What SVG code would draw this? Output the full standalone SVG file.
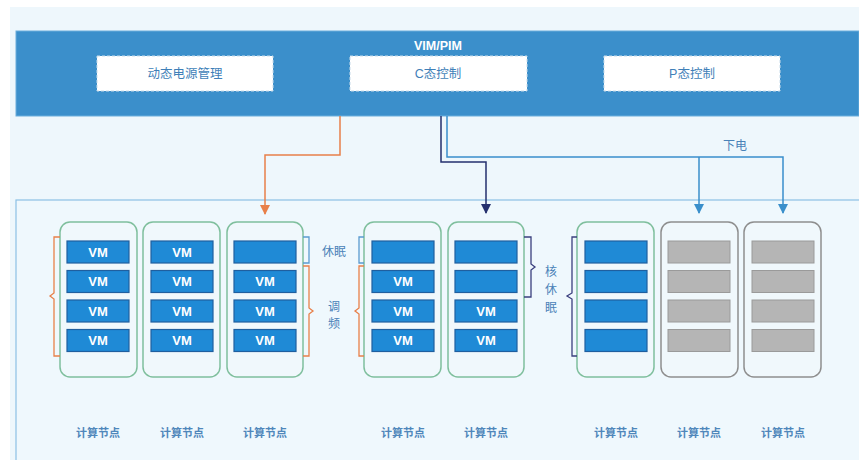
<svg xmlns="http://www.w3.org/2000/svg" width="859" height="460" viewBox="0 0 859 460">
<defs>
<style>
.txt{font-family:"Liberation Sans","Noto Sans CJK SC",sans-serif}
.box{fill:#ffffff;stroke:#c9dcea;stroke-width:1;stroke-dasharray:3 2}
.boxt{font-size:12.5px;fill:#3f7fb8;text-anchor:middle}
.node{fill:#f0f8fc;stroke:#7fbf9d;stroke-width:1.5}
.gnode{fill:#f0f8fc;stroke:#8e8e8e;stroke-width:1.5}
.vm{fill:#1f8ad6;stroke:#1f5f9f;stroke-width:1.2}
.gvm{fill:#b5b5b5;stroke:#9a9a9a;stroke-width:1}
.vmt{font-size:13px;font-weight:bold;fill:#ffffff;text-anchor:middle}
.lbl{font-size:11px;font-weight:bold;fill:#4f87bb;text-anchor:middle}
.side{font-size:12px;fill:#4a82b8;text-anchor:middle}
.conn{fill:none;stroke-width:1.5}
.br{fill:none;stroke-width:1.3}
</style>
<marker id="aN" viewBox="0 0 10 10" refX="9" refY="5" markerWidth="10" markerHeight="10" markerUnits="userSpaceOnUse" orient="auto"><path d="M0,0 L10,5 L0,10 Z" fill="#25306e"/></marker>
<marker id="aB" viewBox="0 0 10 10" refX="9" refY="5" markerWidth="10" markerHeight="10" markerUnits="userSpaceOnUse" orient="auto"><path d="M0,0 L10,5 L0,10 Z" fill="#3a8fcb"/></marker>
<marker id="aO" viewBox="0 0 10 10" refX="9" refY="5" markerWidth="10" markerHeight="10" markerUnits="userSpaceOnUse" orient="auto"><path d="M0,0 L10,5 L0,10 Z" fill="#e8804a"/></marker>
</defs>
<rect x="0" y="0" width="859" height="460" fill="#ffffff"/>
<rect x="10" y="7" width="849" height="453" fill="#eef7fc"/>

<g id="vim-pim">
<rect x="16" y="31" width="843" height="85" fill="#3b8fcb" stroke="#6aaedc" stroke-width="1"/>
<text class="txt" x="438" y="50" font-size="12.5" font-weight="bold" fill="#ffffff" text-anchor="middle">VIM/PIM</text>
</g>
<g id="dpm"><rect class="box" x="97" y="56" width="176" height="35"/><text class="txt boxt" x="185" y="78">动态电源管理</text></g>
<g id="cstate"><rect class="box" x="350" y="56" width="177" height="35"/><text class="txt boxt" x="438" y="78">C态控制</text></g>
<g id="pstate"><rect class="box" x="604" y="56" width="176" height="35"/><text class="txt boxt" x="692" y="78">P态控制</text></g>

<g id="cluster"><rect x="16" y="200" width="850" height="270" fill="#eff8fd" stroke="#8cc0e4" stroke-width="1.2"/></g>

<g id="connectors">
<path class="conn" d="M340,116 V155 H265 V214" stroke="#e8804a" marker-end="url(#aO)"/>
<path class="conn" d="M441,116 V162 H486 V213" stroke="#25306e" marker-end="url(#aN)"/>
<path class="conn" d="M447,116 V157 H783 V213" stroke="#3a8fcb" marker-end="url(#aB)"/>
<path class="conn" d="M699,157 V213" stroke="#3a8fcb" marker-end="url(#aB)"/>
<text class="txt side" x="735" y="150">下电</text>
</g>

<g id="node1"><rect class="node" x="60" y="222" width="77" height="155" rx="10"/>
<rect class="vm" x="67" y="241" width="62" height="22"/><text class="txt vmt" x="98" y="256.5">VM</text>
<rect class="vm" x="67" y="270.5" width="62" height="22"/><text class="txt vmt" x="98" y="286">VM</text>
<rect class="vm" x="67" y="300" width="62" height="22"/><text class="txt vmt" x="98" y="315.5">VM</text>
<rect class="vm" x="67" y="329.5" width="62" height="22"/><text class="txt vmt" x="98" y="345">VM</text>
<text class="txt lbl" x="98" y="437">计算节点</text></g>

<g id="node2"><rect class="node" x="143" y="222" width="77" height="155" rx="10"/>
<rect class="vm" x="151" y="241" width="62" height="22"/><text class="txt vmt" x="182" y="256.5">VM</text>
<rect class="vm" x="151" y="270.5" width="62" height="22"/><text class="txt vmt" x="182" y="286">VM</text>
<rect class="vm" x="151" y="300" width="62" height="22"/><text class="txt vmt" x="182" y="315.5">VM</text>
<rect class="vm" x="151" y="329.5" width="62" height="22"/><text class="txt vmt" x="182" y="345">VM</text>
<text class="txt lbl" x="182" y="437">计算节点</text></g>

<g id="node3"><rect class="node" x="227" y="222" width="76" height="155" rx="10"/>
<rect class="vm" x="234" y="241" width="62" height="22"/>
<rect class="vm" x="234" y="270.5" width="62" height="22"/><text class="txt vmt" x="265" y="286">VM</text>
<rect class="vm" x="234" y="300" width="62" height="22"/><text class="txt vmt" x="265" y="315.5">VM</text>
<rect class="vm" x="234" y="329.5" width="62" height="22"/><text class="txt vmt" x="265" y="345">VM</text>
<text class="txt lbl" x="265" y="437">计算节点</text></g>

<g id="node4"><rect class="node" x="364" y="222" width="77" height="155" rx="10"/>
<rect class="vm" x="372" y="241" width="62" height="22"/>
<rect class="vm" x="372" y="270.5" width="62" height="22"/><text class="txt vmt" x="403" y="286">VM</text>
<rect class="vm" x="372" y="300" width="62" height="22"/><text class="txt vmt" x="403" y="315.5">VM</text>
<rect class="vm" x="372" y="329.5" width="62" height="22"/><text class="txt vmt" x="403" y="345">VM</text>
<text class="txt lbl" x="403" y="437">计算节点</text></g>

<g id="node5"><rect class="node" x="448" y="222" width="76" height="155" rx="10"/>
<rect class="vm" x="455" y="241" width="62" height="22"/>
<rect class="vm" x="455" y="270.5" width="62" height="22"/>
<rect class="vm" x="455" y="300" width="62" height="22"/><text class="txt vmt" x="486" y="315.5">VM</text>
<rect class="vm" x="455" y="329.5" width="62" height="22"/><text class="txt vmt" x="486" y="345">VM</text>
<text class="txt lbl" x="486" y="437">计算节点</text></g>

<g id="node6"><rect class="node" x="577" y="222" width="77" height="155" rx="10"/>
<rect class="vm" x="585" y="241" width="62" height="22"/>
<rect class="vm" x="585" y="270.5" width="62" height="22"/>
<rect class="vm" x="585" y="300" width="62" height="22"/>
<rect class="vm" x="585" y="329.5" width="62" height="22"/>
<text class="txt lbl" x="616" y="437">计算节点</text></g>

<g id="node7"><rect class="gnode" x="661" y="222" width="77" height="155" rx="10"/>
<rect class="gvm" x="668" y="241" width="62" height="22"/>
<rect class="gvm" x="668" y="270.5" width="62" height="22"/>
<rect class="gvm" x="668" y="300" width="62" height="22"/>
<rect class="gvm" x="668" y="329.5" width="62" height="22"/>
<text class="txt lbl" x="699" y="437">计算节点</text></g>

<g id="node8"><rect class="gnode" x="744" y="222" width="77" height="155" rx="10"/>
<rect class="gvm" x="752" y="241" width="62" height="22"/>
<rect class="gvm" x="752" y="270.5" width="62" height="22"/>
<rect class="gvm" x="752" y="300" width="62" height="22"/>
<rect class="gvm" x="752" y="329.5" width="62" height="22"/>
<text class="txt lbl" x="783" y="437">计算节点</text></g>

<g id="annotations">
<path class="br" stroke="#e8804a" d="M60,237 H54 V293 L50,296 L54,299 V356 H60"/>
<path class="br" stroke="#5a9ad0" d="M303,237 H309 V263 H303"/>
<path class="br" stroke="#e8804a" d="M303,266 H309 V308 L313,311 L309,314 V356 H303"/>
<path class="br" stroke="#5a9ad0" d="M364,237 H359 V263 H364"/>
<path class="br" stroke="#e8804a" d="M364,266 H359 V308 L355,311 L359,314 V356 H364"/>
<path class="br" stroke="#3a3f7e" d="M524,237 H531 V264 L535,267 L531,270 V297 H524"/>
<path class="br" stroke="#3a3f7e" d="M577,237 H572 V293 L567,296 L572,299 V356 H577"/>
<text class="txt side" x="334" y="256">休眠</text>
<text class="txt side" x="334" y="311">调</text>
<text class="txt side" x="334" y="328">频</text>
<text class="txt side" x="551" y="276">核</text>
<text class="txt side" x="551" y="294">休</text>
<text class="txt side" x="551" y="312">眠</text>
</g>
</svg>
